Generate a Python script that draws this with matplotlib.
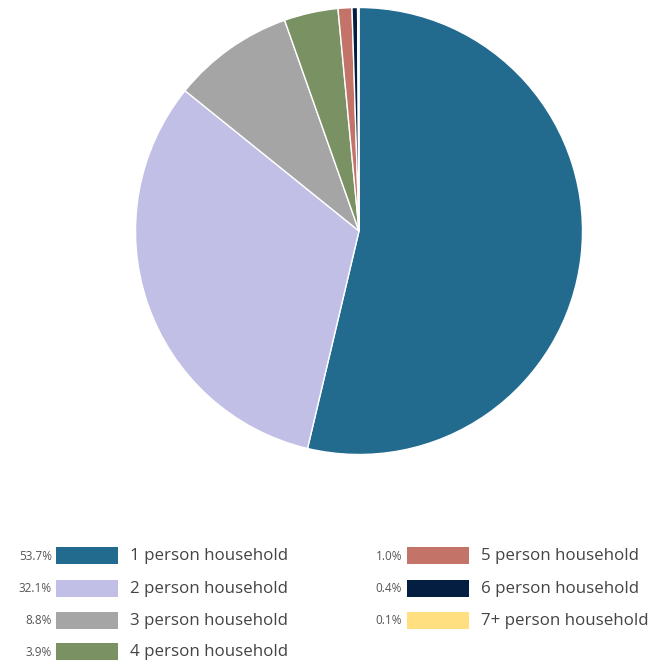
import matplotlib.pyplot as plt
from matplotlib.patches import Rectangle

labels = ['1 person household', '2 person household', '3 person household',
          '4 person household', '5 person household', '6 person household',
          '7+ person household']
shares = [53.7, 32.1, 8.8, 3.9, 1.0, 0.4, 0.1]
colors = ['#236b8e', '#c1bfe6', '#a5a5a5', '#7a9263', '#c47368', '#041e42', '#ffdf80']

plt.rcParams['font.family'] = ['Open Sans', 'DejaVu Sans']

W, H = 650, 662
fig = plt.figure(figsize=(W / 100, H / 100), dpi=100)

# pie
cx, cy, r = 359, 231, 223.5
ax = fig.add_axes([(cx - r) / W, 1 - (cy + r) / H, 2 * r / W, 2 * r / H])
ax.pie(shares, colors=colors, startangle=90, counterclock=False,
       wedgeprops=dict(edgecolor='white', linewidth=1.0), radius=1)
ax.set_xlim(-1, 1)
ax.set_ylim(-1, 1)
ax.set_aspect('equal')
ax.axis('off')

# legend, in pixel units
lg = fig.add_axes([0, 0, 1, 1])
lg.set_xlim(0, W)
lg.set_ylim(H, 0)
lg.axis('off')
row_y = [555, 588, 620, 651]
cols = [(52, 56, 130), (402, 407, 481)]
for i, (lab, s, c) in enumerate(zip(labels, shares, colors)):
    col = 0 if i < 4 else 1
    y = row_y[i if i < 4 else i - 4]
    px, rx, tx = cols[col]
    lg.add_patch(Rectangle((rx, y - 8.5), 62, 17, facecolor=c, edgecolor='none'))
    lg.text(px, y + 1, f'{s:.1f}%', ha='right', va='center', fontsize=8.5, color='#555555')
    lg.text(tx, y + 1, lab, ha='left', va='center', fontsize=12.2, color='#444444')

fig.savefig('out.png', dpi=100)
